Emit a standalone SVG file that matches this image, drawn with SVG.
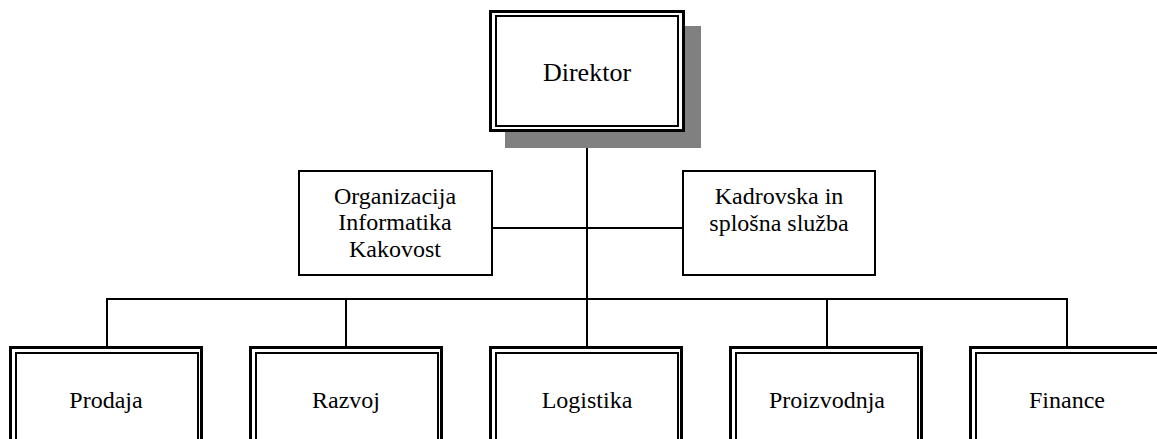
<svg xmlns="http://www.w3.org/2000/svg" width="1157" height="439" viewBox="0 0 1157 439" font-family="'Liberation Serif', 'Times New Roman', serif">
  <style>
    .outer { fill: #fff; stroke: #000; stroke-width: 3; }
    .inner { fill: none; stroke: #000; stroke-width: 2; }
    .single { fill: #fff; stroke: #000; stroke-width: 2; }
    .shadow { fill: #808080; }
    .wire { fill: none; stroke: #000; stroke-width: 2; }
    text { font-family: 'Liberation Serif', 'Times New Roman', serif; fill: #000; text-anchor: middle; }
    .t-main { font-size: 26px; }
    .t-node { font-size: 24px; }
  </style>
  <rect width="1157" height="439" fill="#fff"/>

  <!-- connectors -->
  <g id="connectors">
    <line class="wire" x1="587" y1="132" x2="587" y2="347"/>
    <line class="wire" x1="492" y1="228" x2="683" y2="228"/>
    <polyline class="wire" points="107,347 107,299 1067,299 1067,347"/>
    <line class="wire" x1="346" y1="299" x2="346" y2="347"/>
    <line class="wire" x1="827" y1="299" x2="827" y2="347"/>
  </g>

  <!-- top node with drop shadow -->
  <g id="direktor">
    <rect class="shadow" x="505" y="26" width="196" height="122"/>
    <rect class="outer" x="490.5" y="11.5" width="193" height="119"/>
    <rect class="inner" x="496" y="16" width="182" height="110"/>
    <text class="t-main" x="587" y="81">Direktor</text>
  </g>

  <!-- staff units -->
  <g id="organizacija">
    <rect class="single" x="299" y="171" width="193" height="104"/>
    <text class="t-node" x="395" y="204">Organizacija</text>
    <text class="t-node" x="395" y="230">Informatika</text>
    <text class="t-node" x="395" y="257">Kakovost</text>
  </g>
  <g id="kadrovska">
    <rect class="single" x="683" y="171" width="192" height="104"/>
    <text class="t-node" x="779" y="204">Kadrovska in</text>
    <text class="t-node" x="779" y="231">splošna služba</text>
  </g>

  <!-- departments -->
  <g id="prodaja">
    <rect class="outer" x="10.5" y="347.5" width="191" height="120"/>
    <rect class="inner" x="16" y="353" width="182" height="110"/>
    <text class="t-node" x="106" y="408">Prodaja</text>
  </g>
  <g id="razvoj">
    <rect class="outer" x="250.5" y="347.5" width="191" height="120"/>
    <rect class="inner" x="256" y="353" width="182" height="110"/>
    <text class="t-node" x="346" y="408">Razvoj</text>
  </g>
  <g id="logistika">
    <rect class="outer" x="490.5" y="347.5" width="191" height="120"/>
    <rect class="inner" x="496" y="353" width="182" height="110"/>
    <text class="t-node" x="587" y="408">Logistika</text>
  </g>
  <g id="proizvodnja">
    <rect class="outer" x="730.5" y="347.5" width="191" height="120"/>
    <rect class="inner" x="736" y="353" width="182" height="110"/>
    <text class="t-node" x="827" y="408">Proizvodnja</text>
  </g>
  <g id="finance">
    <rect class="outer" x="970.5" y="347.5" width="191" height="120"/>
    <rect class="inner" x="976" y="353" width="182" height="110"/>
    <text class="t-node" x="1067" y="408">Finance</text>
  </g>
</svg>
